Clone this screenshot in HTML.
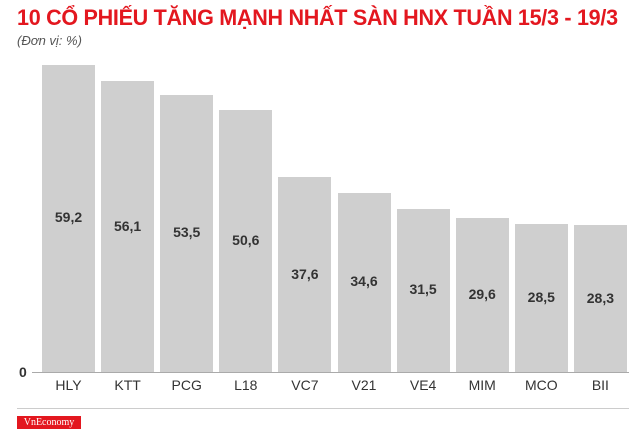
<!DOCTYPE html>
<html><head><meta charset="utf-8"><style>
body{margin:0;width:630px;height:431px;background:#fff;position:relative;overflow:hidden;font-family:"Liberation Sans",sans-serif}
.t{position:absolute;left:17px;top:5px;font-size:22px;font-weight:bold;color:#e3171f;letter-spacing:-0.3px;transform:scaleX(0.98);transform-origin:left;white-space:nowrap}
.u{position:absolute;left:17px;top:33px;font-size:13px;font-style:italic;color:#555}
.b{position:absolute;width:53px;background:#cfcfcf}
.v{position:absolute;width:53px;text-align:center;font-size:14px;font-weight:bold;color:#333}
.l{position:absolute;width:59px;text-align:center;font-size:14px;color:#333;top:377px}
</style></head><body>
<div class="t">10 CỔ PHIẾU TĂNG MẠNH NHẤT SÀN HNX TUẦN 15/3 - 19/3</div>
<div class="u">(Đơn vị: %)</div>
<div id="c"></div>
<div style="position:absolute;left:32px;top:372px;width:597px;height:1px;background:#aaa"></div>
<div style="position:absolute;left:19px;top:364px;font-size:14px;font-weight:bold;color:#333">0</div>
<div style="position:absolute;left:17px;top:408px;width:612px;height:1px;background:#ccc"></div>
<div style="position:absolute;left:17px;top:416px;width:64px;height:13px;background:#e3171f;color:#fff;font-family:'Liberation Serif',serif;font-size:10px;line-height:13px;text-align:center">VnEconomy</div>
<script>
var d=[["HLY",59.2],["KTT",56.1],["PCG",53.5],["L18",50.6],["VC7",37.6],["V21",34.6],["VE4",31.5],["MIM",29.6],["MCO",28.5],["BII",28.3]];
var h="";d.forEach(function(e,i){var x=42+i*59.1,hh=e[1]*5.186,top=372-hh;
h+='<div class="b" style="left:'+x+'px;top:'+top+'px;height:'+hh+'px"></div>';
h+='<div class="v" style="left:'+x+'px;top:'+(top+hh/2-9)+'px">'+e[1].toFixed(1).replace(".",",")+'</div>';
h+='<div class="l" style="left:'+(x-3)+'px">'+e[0]+'</div>';});
document.getElementById("c").innerHTML=h;
</script>
</body></html>
